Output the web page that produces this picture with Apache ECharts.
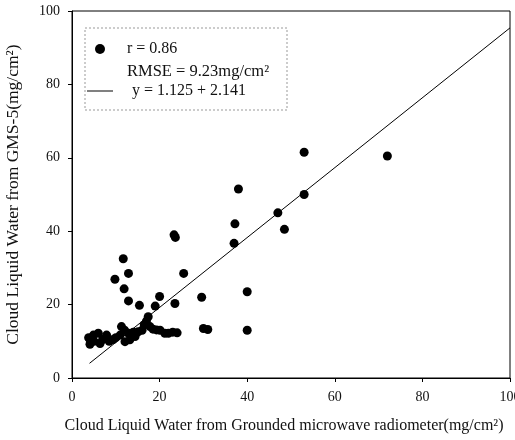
<!DOCTYPE html>
<html>
<head>
<meta charset="utf-8" />
<title>CLW scatter</title>
<style>
  html, body { margin: 0; padding: 0; background: #fff; }
  #chartBox { width: 515px; height: 440px; }
</style>
</head>
<body>
<div id="chartBox"></div>
<script src="https://cdn.jsdelivr.net/npm/echarts@6/dist/echarts.min.js"></script>
<script>
// ground microwave radiometer (x) vs GMS-5 (y), mg/cm2
var scatterData = [
  [53, 61.5], [72, 60.5], [53, 50], [47, 45], [48.5, 40.5], [38, 51.5],
  [37.2, 42], [37, 36.7], [25.5, 28.5], [29.6, 22], [40, 23.5],
  [30, 13.5], [31, 13.2], [40, 13],
  [23.3, 39], [23.6, 38.3], [11.7, 32.5], [12.9, 28.5], [9.8, 26.9],
  [11.9, 24.3], [12.9, 21], [15.4, 19.8], [19, 19.6], [20, 22.2], [23.5, 20.3],
  [17.4, 16.7], [17, 15.5], [16.5, 14.5],
  [4.1, 10.5], [4.1, 9.2], [4.9, 11.7], [6, 12.2], [6.4, 9.4], [7.9, 11.7],
  [9.4, 10.5], [8.5, 10], [10, 11], [11.3, 14], [11, 11.7], [12.9, 12.2],
  [13.2, 10.4], [12.1, 9.9], [14.4, 11.3], [15.1, 12.6], [17.8, 14],
  [18.5, 13.3], [19.3, 13.1], [20.1, 13], [21.2, 12.2], [22, 12.2],
  [23, 12.5], [24, 12.3], [12, 13], [13.5, 11.5], [14, 12.5], [16, 13],
  [5, 10], [7, 10.5], [3.8, 11]
];
var fitLine = [[4, 4], [100, 95.4]];
var legendNames = ['r = 0.86', 'y = 1.125 + 2.141'];
var rmseText = 'RMSE = 9.23mg/cm²';
var xTitle = 'Cloud Liquid Water from Grounded microwave radiometer(mg/cm²)';
var yTitle = 'Cloud Liquid Water from GMS-5(mg/cm²)';

var _font = 'Liberation Serif';
var _fontSize = 14;

function axisOpt(name, gap, nameSize, namePad) {
  return {
    type: 'value',
    min: 0,
    max: 100,
    interval: 20,
    name: name,
    nameLocation: 'middle',
    nameGap: gap,
    nameTextStyle: { fontFamily: _font, fontSize: nameSize, color: '#111', padding: namePad },
    axisLine: { show: true, lineStyle: { color: '#000', width: 1 } },
    axisTick: { show: true, length: 4, lineStyle: { color: '#000' } },
    axisLabel: { fontFamily: _font, fontSize: _fontSize, color: '#111', margin: 12 },
    splitLine: { show: false }
  };
}

var myChart = echarts.init(document.getElementById('chartBox'));
var option = {
  animation: false,
  grid: {
    left: 72, right: 5, top: 11, bottom: 62,
    outerBoundsMode: 'none',
    show: true, borderColor: '#000', borderWidth: 1
  },
  xAxis: axisOpt(xTitle, 40, 16, [0, 14, 0, 0]),
  yAxis: axisOpt(yTitle, 50, 17.5, 0),
  legend: {
    orient: 'vertical',
    left: 82,
    top: 36,
    itemWidth: 26,
    itemHeight: 10,
    itemGap: 26,
    textStyle: { fontFamily: _font, fontSize: 16, color: '#111' },
    data: [
      {
        name: legendNames[0],
        icon: 'circle',
        itemStyle: { color: '#000' },
        textStyle: { padding: [0, 0, 0, 9] }
      },
      {
        name: legendNames[1],
        icon: 'path://M0,0L26,0L26,1L0,1Z',
        itemStyle: { color: '#000' },
        textStyle: { padding: [0, 0, 0, 14] }
      }
    ]
  },
  graphic: [
    {
      type: 'rect',
      shape: { x: 85, y: 28, width: 202, height: 82 },
      style: { fill: 'none', stroke: '#999', lineWidth: 1, lineDash: [2, 2] }
    },
    {
      type: 'text',
      left: 127,
      top: 63,
      style: { text: rmseText, font: '16.5px "Liberation Serif"', fill: '#111' }
    }
  ],
  series: [
    {
      name: legendNames[0],
      type: 'scatter',
      symbolSize: 9,
      itemStyle: { color: '#000', opacity: 1 },
      data: scatterData
    },
    {
      name: legendNames[1],
      type: 'line',
      symbol: 'none',
      itemStyle: { color: '#000' },
      lineStyle: { color: '#000', width: 1 },
      data: fitLine
    }
  ]
};
myChart.setOption(option);
</script>
</body>
</html>
